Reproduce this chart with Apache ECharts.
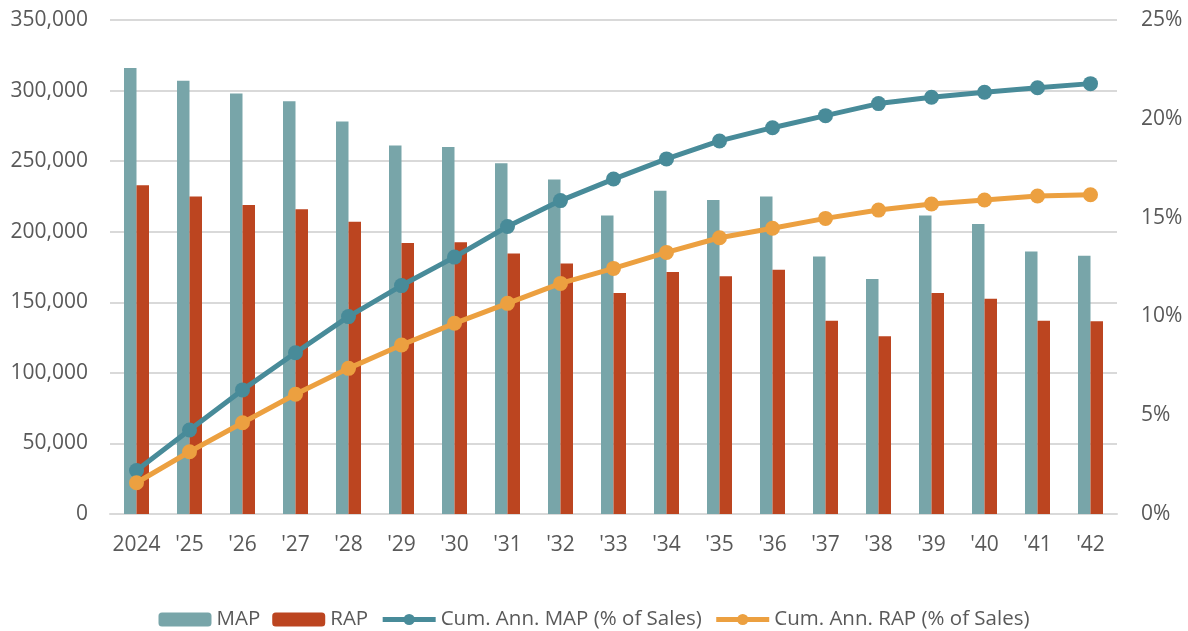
<!DOCTYPE html>
<html>
<head>
    <meta charset="utf-8">
    <title>MAP / RAP</title>
    <script src="https://cdn.jsdelivr.net/npm/echarts@6/dist/echarts.min.js"></script>
    <style>
        html, body { margin: 0; padding: 0; background: #fff; }
        #chart { width: 1188px; height: 631px; }
    </style>
</head>
<body>
    <div id="chart"></div>
    <script>
        var years = ['2024', "'25", "'26", "'27", "'28", "'29", "'30", "'31", "'32", "'33",
            "'34", "'35", "'36", "'37", "'38", "'39", "'40", "'41", "'42"];
        var mapValues = [316000, 307000, 298000, 292500, 278000, 261000, 260000, 248500, 237000, 211500,
            229000, 222500, 225000, 182500, 166500, 211500, 205500, 186000, 183000];
        var rapValues = [233000, 225000, 219000, 216000, 207000, 192000, 192500, 184500, 177500, 156500,
            171500, 168500, 173000, 137000, 126000, 156500, 152500, 137000, 136500];
        var cumMap = [2.2, 4.25, 6.28, 8.16, 9.99, 11.56, 13.0, 14.55, 15.86, 16.95,
            17.97, 18.88, 19.55, 20.16, 20.77, 21.09, 21.34, 21.57, 21.78];
        var cumRap = [1.58, 3.15, 4.62, 6.06, 7.37, 8.55, 9.65, 10.66, 11.67, 12.43,
            13.24, 13.98, 14.46, 14.96, 15.38, 15.69, 15.89, 16.09, 16.16];

        var labelFont = { color: '#595959', fontSize: 21, fontFamily: 'Open Sans' };

        var chart = echarts.init(document.getElementById('chart'));
        chart.setOption({
            animation: false,
            grid: { left: 110, right: 71, top: 20, bottom: 117, containLabel: false },
            legend: {
                top: 604,
                left: 'center',
                itemGap: 12,
                itemWidth: 53,
                itemHeight: 14,
                lineStyle: { width: 5 },
                textStyle: { color: '#595959', fontSize: 20.5, fontFamily: 'Open Sans' },
                data: ['MAP', 'RAP', 'Cum. Ann. MAP (% of Sales)', 'Cum. Ann. RAP (% of Sales)']
            },
            xAxis: {
                type: 'category',
                data: years,
                axisLine: { lineStyle: { color: '#D9D9D9', width: 2 } },
                axisTick: { show: false },
                axisLabel: Object.assign({ margin: 21, interval: 0 }, labelFont)
            },
            yAxis: [{
                type: 'value',
                min: 0, max: 350000, interval: 50000,
                axisLine: { show: false },
                axisTick: { show: false },
                splitLine: { lineStyle: { color: '#D9D9D9', width: 2 } },
                axisLabel: Object.assign({
                    margin: 22,
                    formatter: function (v) { return v.toLocaleString('en-US'); }
                }, labelFont)
            }, {
                type: 'value',
                min: 0, max: 25, interval: 5,
                axisLine: { show: false },
                axisTick: { show: false },
                splitLine: { show: false },
                axisLabel: Object.assign({ margin: 24, formatter: '{value}%' }, labelFont)
            }],
            series: [{
                name: 'MAP',
                type: 'bar',
                data: mapValues,
                barWidth: 12.5,
                barGap: '0%',
                itemStyle: { color: '#78A5A9' }
            }, {
                name: 'RAP',
                type: 'bar',
                data: rapValues,
                barWidth: 12.5,
                itemStyle: { color: '#BC4520' }
            }, {
                name: 'Cum. Ann. MAP (% of Sales)',
                type: 'line',
                yAxisIndex: 1,
                data: cumMap,
                symbol: 'circle',
                symbolSize: 15,
                lineStyle: { color: '#488B99', width: 5 },
                itemStyle: { color: '#488B99' }
            }, {
                name: 'Cum. Ann. RAP (% of Sales)',
                type: 'line',
                yAxisIndex: 1,
                data: cumRap,
                symbol: 'circle',
                symbolSize: 15,
                lineStyle: { color: '#ECA040', width: 5 },
                itemStyle: { color: '#ECA040' }
            }]
        });
    </script>
</body>
</html>
